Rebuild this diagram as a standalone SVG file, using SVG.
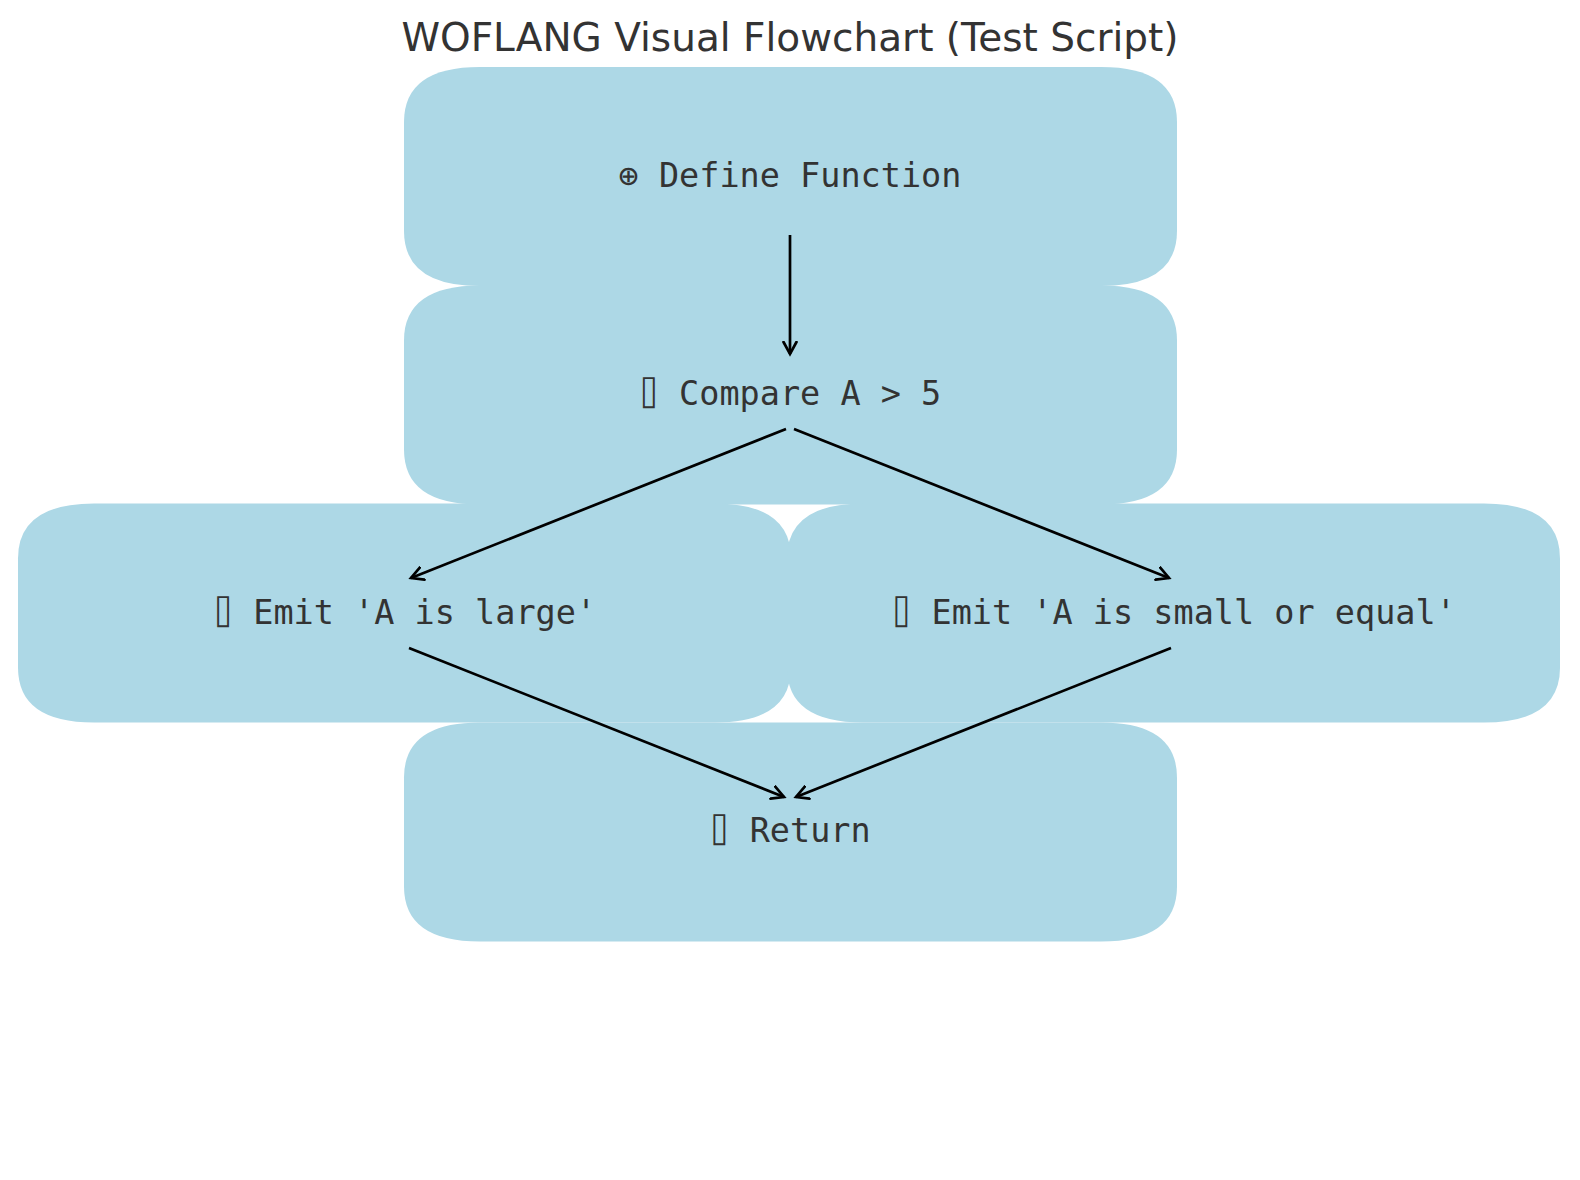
<svg xmlns="http://www.w3.org/2000/svg" width="1580" height="1180" viewBox="0 0 1580 1180">
  <style>
    .box { fill: #ADD8E6; stroke: none; }
    .lbl { font-family: "DejaVu Sans Mono", "Liberation Mono", monospace; font-size: 33.5px; fill: #333333; text-anchor: middle; }
    .title { font-family: "DejaVu Sans", "Liberation Sans", sans-serif; font-size: 39px; fill: #333333; text-anchor: middle; }
    .edge { fill: none; stroke: #000000; stroke-width: 2.7; marker-end: url(#arr); }
  </style>
  <defs>
    <marker id="arr" viewBox="0 0 16 16" refX="13" refY="8" markerWidth="16" markerHeight="16" markerUnits="userSpaceOnUse" orient="auto">
      <path d="M1,1.5 L13,8 L1,14.5" fill="none" stroke="#000000" stroke-width="2.7" stroke-linecap="round" stroke-linejoin="miter"/>
    </marker>
  </defs>
  <rect x="0" y="0" width="1580" height="1180" fill="#ffffff"/>
  <text class="title" x="790" y="50.5">WOFLANG Visual Flowchart (Test Script)</text>

  <g id="node-define">
    <path class="box" d="M480,67 H1101 Q1177,67 1177,122 V231 Q1177,286 1101,286 H480 Q404,286 404,231 V122 Q404,67 480,67 Z"/>
    <text class="lbl" x="790" y="186.5">⊕ Define Function</text>
  </g>
  <g id="node-compare">
    <path class="box" d="M480,285.5 H1101 Q1177,285.5 1177,340.5 V449.5 Q1177,504.5 1101,504.5 H480 Q404,504.5 404,449.5 V340.5 Q404,285.5 480,285.5 Z"/>
    <text class="lbl" x="790" y="405">⌷ Compare A &gt; 5</text>
  </g>
  <g id="node-large">
    <path class="box" d="M94,503.5 H715 Q791,503.5 791,558.5 V667.5 Q791,722.5 715,722.5 H94 Q18,722.5 18,667.5 V558.5 Q18,503.5 94,503.5 Z"/>
    <text class="lbl" x="404.5" y="623.5">⌷ Emit 'A is large'</text>
  </g>
  <g id="node-small">
    <path class="box" d="M863,503.5 H1484 Q1560,503.5 1560,558.5 V667.5 Q1560,722.5 1484,722.5 H863 Q787,722.5 787,667.5 V558.5 Q787,503.5 863,503.5 Z"/>
    <text class="lbl" x="1173.5" y="623.5">⌷ Emit 'A is small or equal'</text>
  </g>
  <g id="node-return">
    <path class="box" d="M480,722.5 H1101 Q1177,722.5 1177,777.5 V886.5 Q1177,941.5 1101,941.5 H480 Q404,941.5 404,886.5 V777.5 Q404,722.5 480,722.5 Z"/>
    <text class="lbl" x="790" y="842">⌷ Return</text>
  </g>

  <g id="connectors">
    <path class="edge" d="M790,235 L790,354"/>
    <path class="edge" d="M786,429 L411,578"/>
    <path class="edge" d="M794,429 L1169,578"/>
    <path class="edge" d="M409,648 L784,797"/>
    <path class="edge" d="M1171,648 L796,797"/>
  </g>
</svg>
